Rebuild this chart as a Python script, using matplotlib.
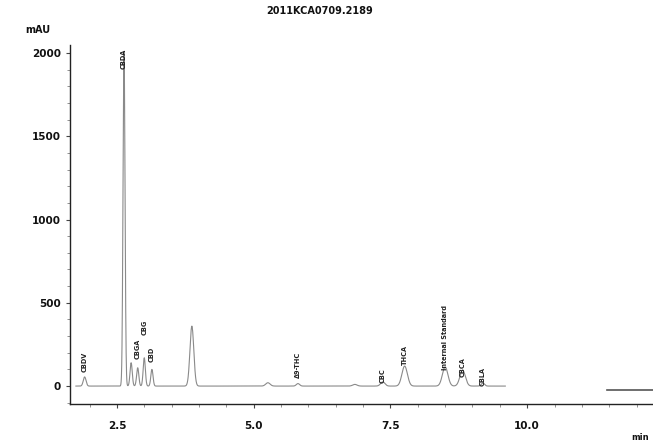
import numpy as np
import matplotlib
matplotlib.use("Agg")
import matplotlib.pyplot as plt
from matplotlib.ticker import MultipleLocator

# peak table: retention time (min), height (mAU), width (min)
peak_names = ["CBDV", "CBDA", "", "CBGA", "CBG", "CBD", "", "", "Δ9-THC", "", "CBC",
              "THCA", "Internal Standard", "CBCA", "CBLA"]
peak_times = [1.91, 2.63, 2.76, 2.88, 3.00, 3.14, 3.87, 5.26, 5.81, 6.85, 7.36,
              7.76, 8.50, 8.82, 9.19]
peak_heights = [55, 2010, 140, 110, 170, 100, 360, 20, 15, 10, 25,
                120, 115, 95, 18]
peak_widths = [0.025, 0.018, 0.02, 0.02, 0.02, 0.02, 0.035, 0.04, 0.03, 0.04, 0.04,
               0.05, 0.05, 0.05, 0.03]
# lower end of each rotated label (mAU)
label_base = [85, 1905, 0, 160, 305, 145, 50, 0, 50, 0, 18,
              125, 95, 55, 2]

tail_start, tail_end, tail_level = 11.45, 12.3, -22

font = ["Liberation Sans Narrow", "DejaVu Sans"]
plt.rcParams["font.family"] = font

# trace built from the peak table
t = np.linspace(1.75, 9.6, 3000)
signal = np.zeros_like(t)
for tm, h, w in zip(peak_times, peak_heights, peak_widths):
    signal += h * np.exp(-0.5 * ((t - tm) / w) ** 2)

fig = plt.figure(figsize=(6.53, 4.45), dpi=100)
ax = fig.add_axes([0.107, 0.092, 0.893, 0.807])

ax.plot(t, signal, color="#8a8a8a", lw=0.8)
ax.plot([tail_start, tail_end], [tail_level, tail_level], color="#555555", lw=1.2)

for name, tm, base in zip(peak_names, peak_times, label_base):
    if name:
        ax.text(tm, base, name, rotation=90, ha="center", va="bottom",
                fontsize=4.7, fontweight="bold", color="#222222")

ax.set_xlim(1.64, 12.3)
ax.set_ylim(-108, 2048)
ax.set_xticks([2.5, 5.0, 7.5, 10.0])
ax.set_xticklabels(["2.5", "5.0", "7.5", "10.0"])
ax.xaxis.set_minor_locator(MultipleLocator(0.5))
ax.set_yticks([0, 500, 1000, 1500, 2000])
ax.yaxis.set_minor_locator(MultipleLocator(100))

for s in ["top", "right"]:
    ax.spines[s].set_visible(False)
for s in ["left", "bottom"]:
    ax.spines[s].set_color("#222222")
    ax.spines[s].set_linewidth(1.0)

ax.tick_params(axis="both", which="major", length=3, width=0.8, color="#444444",
               labelsize=7.5, labelcolor="#111111")
ax.tick_params(axis="x", which="major", pad=9)
ax.tick_params(axis="both", which="minor", length=2, width=0.5, color="#666666")
for lbl in ax.get_xticklabels() + ax.get_yticklabels():
    lbl.set_fontweight("bold")

fig.text(0.49, 0.975, "2011KCA0709.2189", ha="center", va="center",
         fontsize=7, fontweight="bold", color="#111111")
fig.text(0.038, 0.932, "mAU", ha="left", va="center", fontsize=7,
         fontweight="bold", color="#111111")
fig.text(0.98, 0.017, "min", ha="center", va="center", fontsize=6,
         fontweight="bold", color="#111111")

fig.savefig("out.png", dpi=100)
